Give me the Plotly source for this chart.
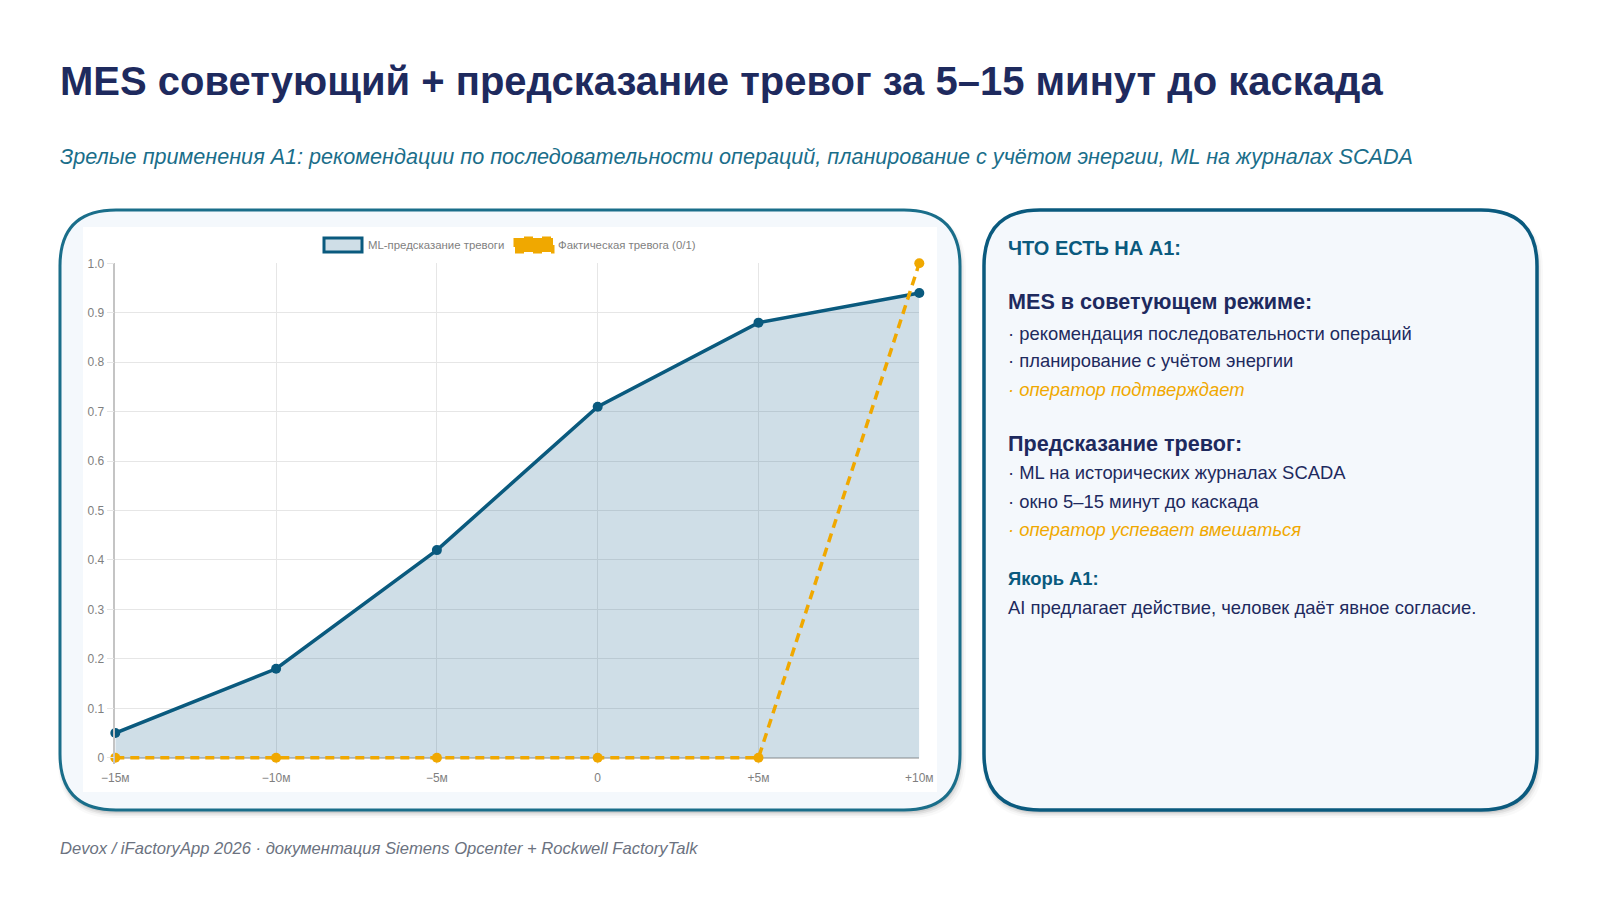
import plotly.graph_objects as go

W, H = 1600, 900
categories = ["−15м", "−10м", "−5м", "0", "+5м", "+10м"]
predicted = [0.05, 0.18, 0.42, 0.71, 0.88, 0.94]
actual = [0, 0, 0, 0, 0, 1]
y_ticks = [0, 0.1, 0.2, 0.3, 0.4, 0.5, 0.6, 0.7, 0.8, 0.9, 1.0]
y_labels = ["0", "0.1", "0.2", "0.3", "0.4", "0.5", "0.6", "0.7", "0.8", "0.9", "1.0"]
name_pred = "ML-предсказание тревоги"
name_act = "Фактическая тревога (0/1)"

NAVY = "#1e2a5e"
TEAL = "#0a5a7e"
TEAL2 = "#1a6e8a"
ORANGE = "#f0a800"
GRAY = "#7f7f7f"
GRID = "#e6e6e6"
AREA = "rgba(13,90,135,0.2)"
FONT = "Liberation Sans"

def px(x): return x / W
def py(y): return 1 - y / H

def rrect(x0, y0, x1, y1, r):
    return (f"M {px(x0+r)} {py(y0)} L {px(x1-r)} {py(y0)} "
            f"Q {px(x1)} {py(y0)} {px(x1)} {py(y0+r)} L {px(x1)} {py(y1-r)} "
            f"Q {px(x1)} {py(y1)} {px(x1-r)} {py(y1)} L {px(x0+r)} {py(y1)} "
            f"Q {px(x0)} {py(y1)} {px(x0)} {py(y1-r)} L {px(x0)} {py(y0+r)} "
            f"Q {px(x0)} {py(y0)} {px(x0+r)} {py(y0)} Z")

shapes = []
def card(x0, y0, x1, y1, color, lw):
    r = 56
    for g, a in ((6, .025), (4, .04), (2.5, .06), (1, .08)):
        shapes.append(dict(type="path", xref="paper", yref="paper", layer="below",
                           path=rrect(x0+1-g/2, y0+3, x1+g, y1+2+g, r),
                           fillcolor=f"rgba(0,0,0,{a})", line_width=0))
    shapes.append(dict(type="path", xref="paper", yref="paper", layer="below",
                       path=rrect(x0, y0, x1, y1, r), fillcolor="#f4f8fc",
                       line=dict(color=color, width=lw)))

card(60, 210, 960, 810, TEAL2, 3)
card(984, 210, 1537, 810, TEAL, 3.5)
shapes.append(dict(type="rect", xref="paper", yref="paper", layer="below",
                   x0=px(83), x1=px(937), y0=py(792), y1=py(227),
                   fillcolor="white", line_width=0))
# legend swatches
shapes.append(dict(type="rect", xref="paper", yref="paper",
                   x0=px(324), x1=px(362), y0=py(252), y1=py(238),
                   fillcolor=AREA, line=dict(color=TEAL, width=3)))
shapes.append(dict(type="rect", xref="paper", yref="paper",
                   x0=px(515), x1=px(553), y0=py(252), y1=py(238),
                   fillcolor=ORANGE, line=dict(color=ORANGE, width=3, dash="dash")))

def T(x, y, text, size, color, bold=False, italic=False, font=FONT):
    if bold: text = f"<b>{text}</b>"
    if italic: text = f"<i>{text}</i>"
    return dict(x=px(x), y=py(y), xref="paper", yref="paper", text=text, showarrow=False,
                xanchor="left", yanchor="middle", align="left",
                font=dict(family=font, size=size, color=color))

ann = [
    T(58, 81, "MES советующий + предсказание тревог за 5–15 минут до каскада", 40, NAVY, bold=True),
    T(58, 157, "Зрелые применения A1: рекомендации по последовательности операций, планирование с учётом энергии, ML на журналах SCADA", 21.6, TEAL2, italic=True),
    T(58, 848, "Devox / iFactoryApp 2026 · документация Siemens Opcenter + Rockwell FactoryTalk", 16.6, "#6b7280", italic=True),
    T(365.5, 244.5, name_pred, 11.4, GRAY),
    T(556, 244.5, name_act, 11.4, GRAY),
    T(1006, 248, "ЧТО ЕСТЬ НА A1:", 20, TEAL, bold=True),
    T(1006, 301, "MES в советующем режиме:", 21.6, NAVY, bold=True),
    T(1006, 333, "· рекомендация последовательности операций", 18.4, NAVY),
    T(1006, 360, "· планирование с учётом энергии", 18.4, NAVY),
    T(1006, 389, "· оператор подтверждает", 18.4, ORANGE, italic=True),
    T(1006, 443, "Предсказание тревог:", 21.6, NAVY, bold=True),
    T(1006, 472, "· ML на исторических журналах SCADA", 18.4, NAVY),
    T(1006, 501, "· окно 5–15 минут до каскада", 18.4, NAVY),
    T(1006, 529, "· оператор успевает вмешаться", 18.4, ORANGE, italic=True),
    T(1006, 578, "Якорь A1:", 18.4, TEAL, bold=True),
    T(1006, 607, "AI предлагает действие, человек даёт явное согласие.", 18.4, NAVY),
]

fig = go.Figure()
fig.add_trace(go.Scatter(x=categories, y=predicted, name=name_pred, mode="lines+markers",
                         fill="tozeroy", fillcolor=AREA,
                         line=dict(color=TEAL, width=3.5), marker=dict(color=TEAL, size=10),
                         cliponaxis=False, showlegend=False))
fig.add_trace(go.Scatter(x=categories, y=actual, name=name_act, mode="lines+markers",
                         line=dict(color=ORANGE, width=3.5, dash="9px,6px"),
                         marker=dict(color=ORANGE, size=10),
                         cliponaxis=False, showlegend=False))
fig.update_layout(
    width=W, height=H, autosize=False, margin=dict(l=0, r=0, t=0, b=0, pad=0),
    paper_bgcolor="white", plot_bgcolor="rgba(0,0,0,0)", shapes=shapes, annotations=ann,
    xaxis=dict(domain=[px(115.3), px(919.3)], range=[0, 5], type="category", automargin=False,
               categoryorder="array", categoryarray=categories,
               showgrid=True, gridcolor=GRID, gridwidth=1, zeroline=False,
               showline=False, ticks="", ticklabelstandoff=5,
               tickfont=dict(family=FONT, size=12, color=GRAY)),
    yaxis=dict(domain=[py(763.7), py(263.3)], range=[-0.012, 1], tickvals=y_ticks, ticktext=y_labels, automargin=False,
               showgrid=True, gridcolor=GRID, gridwidth=1,
               zeroline=True, zerolinecolor="#c4c4c4", zerolinewidth=1.5,
               showline=True, linecolor="#c4c4c4", linewidth=1.5,
               ticks="outside", ticklen=7, tickcolor=GRID,
               tickfont=dict(family=FONT, size=12, color=GRAY)),
)
fig.write_html("out.html", config={"displayModeBar": False},
               post_script="document.body.style.margin='0';")
